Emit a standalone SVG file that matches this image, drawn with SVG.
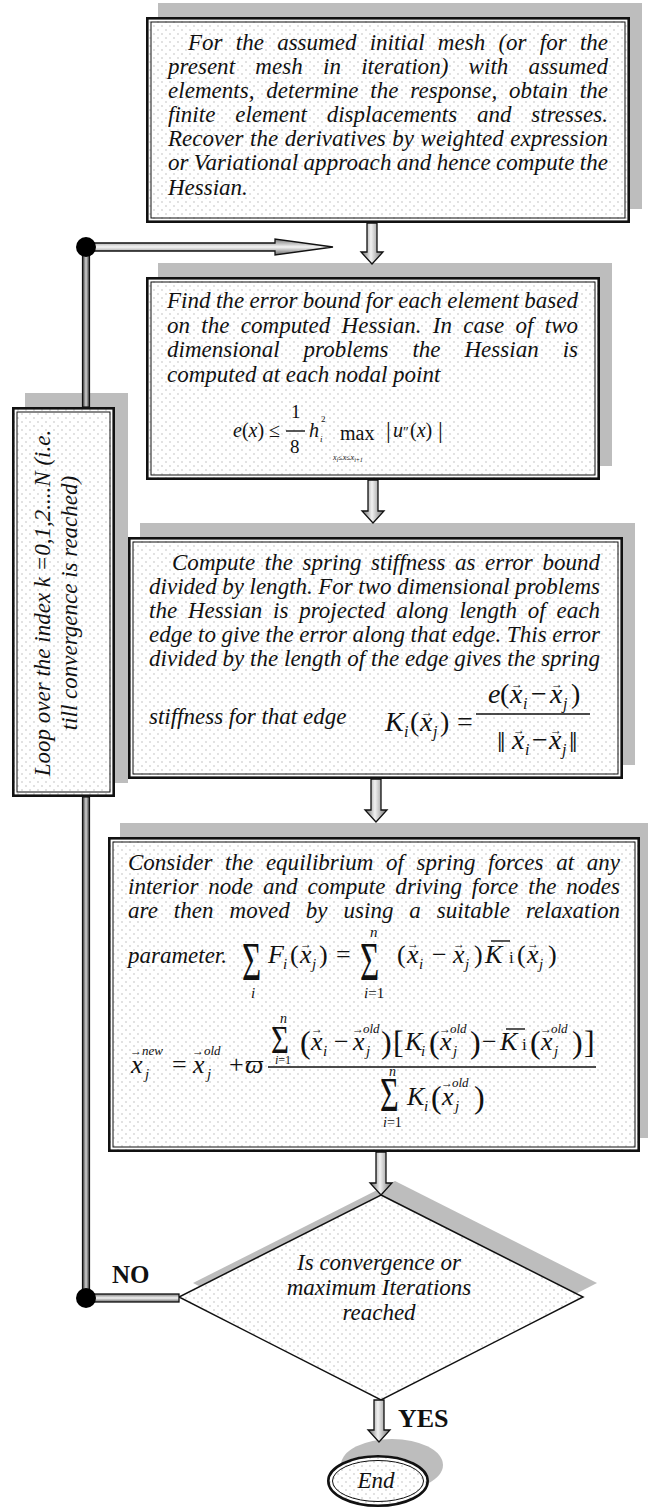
<svg xmlns="http://www.w3.org/2000/svg" width="648" height="1511" viewBox="0 0 648 1511">
<style>
.t{font-family:"Liberation Serif","DejaVu Serif",serif;font-style:italic;font-size:23px;fill:#111}
.m{font-family:"Liberation Serif","DejaVu Serif",serif;fill:#111}
.i{font-style:italic}
.acc{font-family:"Liberation Serif","DejaVu Serif",serif;font-size:12px;fill:#111}
.sup{font-family:"Liberation Serif","DejaVu Serif",serif;font-style:italic;font-size:13px;fill:#111}
.b{font-family:"Liberation Serif","DejaVu Serif",serif;font-weight:bold;fill:#111}
.sh{fill:#bdbdbd}
.fo{fill:none;stroke:#111;stroke-width:2.6}
.fi{fill:none;stroke:#111;stroke-width:1}
.va{fill:url(#gv);stroke:#111;stroke-width:1.3}
.ha{fill:url(#gh);stroke:#111;stroke-width:1.3}
.ln{stroke:#111;stroke-width:1.4}
</style>
<defs>
<pattern id="dots" width="8" height="8" patternUnits="userSpaceOnUse">
<rect width="8" height="8" fill="#fff"/>
<circle cx="2" cy="2" r="0.7" fill="#b0b0b0"/>
<circle cx="6" cy="6" r="0.7" fill="#b0b0b0"/>
</pattern>
<linearGradient id="gv" x1="0" y1="0" x2="1" y2="0">
<stop offset="0" stop-color="#666"/>
<stop offset="0.45" stop-color="#f2f2f2"/>
<stop offset="1" stop-color="#707070"/>
</linearGradient>
<linearGradient id="gh" x1="0" y1="0" x2="0" y2="1">
<stop offset="0" stop-color="#777"/>
<stop offset="0.5" stop-color="#f4f4f4"/>
<stop offset="1" stop-color="#666"/>
</linearGradient>
<linearGradient id="gl" x1="0" y1="0" x2="1" y2="0">
<stop offset="0" stop-color="#333"/>
<stop offset="0.5" stop-color="#d0d0d0"/>
<stop offset="1" stop-color="#333"/>
</linearGradient>
</defs>

<g id="box1">
<rect class="sh" x="158" y="3" width="484" height="206"/>
<rect x="146" y="17" width="484" height="206" fill="url(#dots)"/>
<rect class="fo" x="147.3" y="18.3" width="481.4" height="203.4"/>
<rect class="fi" x="151" y="22" width="474" height="196"/>
<text class="t" x="188" y="50" word-spacing="7.5" textLength="420" lengthAdjust="spacing">For the assumed initial mesh (or for the</text>
<text class="t" x="168" y="74" word-spacing="14.5" textLength="440" lengthAdjust="spacing">present mesh in iteration) with assumed</text>
<text class="t" x="168" y="98" word-spacing="6.1" textLength="440" lengthAdjust="spacing">elements, determine the response, obtain the</text>
<text class="t" x="168" y="122" word-spacing="14" textLength="440" lengthAdjust="spacing">finite element displacements and stresses.</text>
<text class="t" x="168" y="146" word-spacing="0.7" textLength="440" lengthAdjust="spacing">Recover the derivatives by weighted expression</text>
<text class="t" x="168" y="170" word-spacing="-0.6" textLength="440" lengthAdjust="spacing">or Variational approach and hence compute the</text>
<text class="t" x="168" y="195">Hessian.</text>
</g>

<g id="box2">
<rect class="sh" x="158" y="263" width="454" height="203"/>
<rect x="146" y="277" width="454" height="203" fill="url(#dots)"/>
<rect class="fo" x="147.3" y="278.3" width="451.4" height="200.4"/>
<rect class="fi" x="151" y="282" width="444" height="193"/>
<text class="t" x="167" y="308" word-spacing="-0.3" textLength="411" lengthAdjust="spacing">Find the error bound for each element based</text>
<text class="t" x="167" y="333" word-spacing="5.6" textLength="411" lengthAdjust="spacing">on the computed Hessian. In case of two</text>
<text class="t" x="167" y="357" word-spacing="18.1" textLength="411" lengthAdjust="spacing">dimensional problems the Hessian is</text>
<text class="t" x="167" y="382">computed at each nodal point</text>
<text class="m" font-size="20"><tspan x="233" y="437" class="i">e</tspan><tspan>(</tspan><tspan class="i">x</tspan><tspan>) ≤</tspan></text>
<text class="m" font-size="19" x="291" y="418">1</text>
<line class="ln" x1="286" y1="431" x2="305" y2="431" stroke-width="1.1"/>
<text class="m" font-size="19" x="290" y="453">8</text>
<text class="m" font-size="20" x="309" y="437" font-style="italic">h</text>
<text class="m" font-size="9" x="320" y="442" font-style="italic">i</text>
<text class="m" font-size="9" x="321" y="422">2</text>
<text class="m" font-size="20" x="340" y="440">max</text>
<text class="m" font-size="8" x="333" y="460" fill="#555"><tspan class="i">x</tspan><tspan class="i" font-size="6" dy="2">i</tspan><tspan dy="-2">≤</tspan><tspan class="i">x</tspan><tspan>≤</tspan><tspan class="i">x</tspan><tspan class="i" font-size="6" dy="2">i+1</tspan></text>
<text class="m" font-size="20"><tspan x="386" y="438" font-size="24">|</tspan><tspan x="393" y="437" class="i">u</tspan><tspan x="403" y="437" font-size="14">″</tspan><tspan x="410" y="437">(</tspan><tspan class="i">x</tspan><tspan>)</tspan><tspan x="438" y="438" font-size="24">|</tspan></text>
</g>

<g id="box3">
<rect class="sh" x="140" y="523" width="495" height="242"/>
<rect x="128" y="537" width="495" height="242" fill="url(#dots)"/>
<rect class="fo" x="129.3" y="538.3" width="492.4" height="239.4"/>
<rect class="fi" x="133" y="542" width="485" height="232"/>
<text class="t" x="172" y="570" word-spacing="3.8" textLength="428" lengthAdjust="spacing">Compute the spring stiffness as error bound</text>
<text class="t" x="149" y="594" word-spacing="-0.3" textLength="451" lengthAdjust="spacing">divided by length. For two dimensional problems</text>
<text class="t" x="149" y="618" word-spacing="5" textLength="451" lengthAdjust="spacing">the Hessian is projected along length of each</text>
<text class="t" x="149" y="642" word-spacing="-0.3" textLength="451" lengthAdjust="spacing">edge to give the error along that edge. This error</text>
<text class="t" x="149" y="666" word-spacing="0" textLength="451" lengthAdjust="spacing">divided by the length of the edge gives the spring</text>
<text class="t" x="149" y="724">stiffness for that edge</text>
<text class="m" font-size="28"><tspan x="385" y="731" class="i">K</tspan><tspan x="404" y="737" font-size="16" class="i">i</tspan><tspan x="410" y="731">(</tspan><tspan x="420" y="731" class="i">x</tspan><tspan x="433" y="737" font-size="16" class="i">j</tspan><tspan x="440" y="731">)</tspan><tspan x="457" y="731">=</tspan><tspan x="488" y="703" class="i">e</tspan><tspan x="500" y="703">(</tspan><tspan x="510" y="703" class="i">x</tspan><tspan x="523" y="709" font-size="16" class="i">i</tspan><tspan x="531" y="703">−</tspan><tspan x="550" y="703" class="i">x</tspan><tspan x="563" y="709" font-size="16" class="i">j</tspan><tspan x="571" y="703">)</tspan><tspan x="497" y="752" font-size="30">‖</tspan><tspan x="512" y="749" class="i">x</tspan><tspan x="525" y="755" font-size="16" class="i">i</tspan><tspan x="532" y="749">−</tspan><tspan x="549" y="749" class="i">x</tspan><tspan x="562" y="755" font-size="16" class="i">j</tspan><tspan x="569" y="752" font-size="30">‖</tspan></text>
<text class="acc"><tspan x="421" y="716">→</tspan><tspan x="511" y="688">→</tspan><tspan x="551" y="688">→</tspan><tspan x="513" y="734">→</tspan><tspan x="550" y="734">→</tspan></text>
<line class="ln" x1="476" y1="714" x2="590" y2="714"/>
</g>

<g id="box4">
<rect class="sh" x="120" y="823" width="532" height="315"/>
<rect x="108" y="837" width="532" height="315" fill="url(#dots)"/>
<rect class="fo" x="109.3" y="838.3" width="529.4" height="312.4"/>
<rect class="fi" x="113" y="842" width="522" height="305"/>
<text class="t" x="128" y="870" word-spacing="6.9" textLength="492" lengthAdjust="spacing">Consider the equilibrium of spring forces at any</text>
<text class="t" x="128" y="894" word-spacing="4.1" textLength="492" lengthAdjust="spacing">interior node and compute driving force the nodes</text>
<text class="t" x="128" y="918" word-spacing="10.1" textLength="492" lengthAdjust="spacing">are then moved by using a suitable relaxation</text>
<text class="t" x="128" y="963">parameter.</text>
<text class="m" font-size="30" transform="translate(242,980) scale(1.1,1.8)">Σ</text>
<text class="m" font-size="30" transform="translate(360,980) scale(1.1,1.8)">Σ</text>
<text class="m" font-size="26"><tspan x="251" y="998" font-size="15" class="i">i</tspan><tspan x="268" y="963" class="i">F</tspan><tspan x="283" y="969" font-size="15" class="i">i</tspan><tspan x="290" y="963">(</tspan><tspan x="300" y="963" class="i">x</tspan><tspan x="312" y="969" font-size="15" class="i">j</tspan><tspan x="319" y="963">)</tspan><tspan x="336" y="963">=</tspan><tspan x="370" y="937" font-size="15" class="i">n</tspan><tspan x="364" y="998" font-size="15" class="i">i</tspan><tspan font-size="15">=1</tspan><tspan x="397" y="963">(</tspan><tspan x="407" y="963" class="i">x</tspan><tspan x="419" y="969" font-size="15" class="i">i</tspan><tspan x="432" y="963">−</tspan><tspan x="453" y="963" class="i">x</tspan><tspan x="465" y="969" font-size="15" class="i">j</tspan><tspan x="474" y="963">)</tspan><tspan x="485" y="963" class="i">K</tspan><tspan x="509" y="963" font-size="17">i</tspan><tspan x="517" y="963">(</tspan><tspan x="527" y="963" class="i">x</tspan><tspan x="539" y="969" font-size="15" class="i">j</tspan><tspan x="548" y="963">)</tspan></text>
<line class="ln" x1="491" y1="941" x2="510" y2="941" stroke-width="1.6"/>
<text class="acc"><tspan x="300" y="948">→</tspan><tspan x="407" y="948">→</tspan><tspan x="453" y="948">→</tspan><tspan x="527" y="948">→</tspan></text>

<text class="m" font-size="26"><tspan x="131" y="1073" class="i">x</tspan><tspan x="145" y="1079" font-size="15" class="i">j</tspan><tspan x="172" y="1073">=</tspan><tspan x="193" y="1073" class="i">x</tspan><tspan x="207" y="1079" font-size="15" class="i">j</tspan><tspan x="229" y="1073">+</tspan><tspan x="245" y="1073" class="i">ϖ</tspan></text>
<text class="acc"><tspan x="130" y="1055">→</tspan><tspan x="192" y="1055">→</tspan></text>
<text class="sup"><tspan x="142" y="1055">new</tspan><tspan x="204" y="1055">old</tspan></text>
<line class="ln" x1="268" y1="1067" x2="596" y2="1067"/>
<text class="m" font-size="28" transform="translate(271,1053) scale(1.1,1.4)">Σ</text>
<text class="m" font-size="26"><tspan x="280" y="1023" font-size="14" class="i">n</tspan><tspan x="275" y="1064" font-size="12" class="i">i</tspan><tspan font-size="12">=1</tspan><tspan x="300" y="1053" font-size="32">(</tspan><tspan x="311" y="1050" class="i">x</tspan><tspan x="323" y="1056" font-size="15" class="i">i</tspan><tspan x="334" y="1050">−</tspan><tspan x="353" y="1050" class="i">x</tspan><tspan x="366" y="1056" font-size="15" class="i">j</tspan><tspan x="381" y="1053" font-size="32">)</tspan><tspan x="393" y="1053" font-size="32">[</tspan><tspan x="405" y="1050" class="i">K</tspan><tspan x="421" y="1056" font-size="15" class="i">i</tspan><tspan x="429" y="1053" font-size="32">(</tspan><tspan x="440" y="1050" class="i">x</tspan><tspan x="453" y="1056" font-size="15" class="i">j</tspan><tspan x="470" y="1053" font-size="32">)</tspan><tspan x="482" y="1050">−</tspan><tspan x="500" y="1050" class="i">K</tspan><tspan x="522" y="1050" font-size="17">i</tspan><tspan x="530" y="1053" font-size="32">(</tspan><tspan x="541" y="1050" class="i">x</tspan><tspan x="554" y="1056" font-size="15" class="i">j</tspan><tspan x="572" y="1053" font-size="32">)</tspan><tspan x="584" y="1053" font-size="32">]</tspan></text>
<line class="ln" x1="506" y1="1029" x2="525" y2="1029" stroke-width="1.6"/>
<text class="acc"><tspan x="311" y="1033">→</tspan><tspan x="352" y="1033">→</tspan><tspan x="439" y="1033">→</tspan><tspan x="540" y="1033">→</tspan></text>
<text class="sup"><tspan x="363" y="1033">old</tspan><tspan x="450" y="1033">old</tspan><tspan x="551" y="1033">old</tspan></text>
<text class="m" font-size="28" transform="translate(380,1111) scale(1.15,1.7)">Σ</text>
<text class="m" font-size="26"><tspan x="389" y="1076" font-size="14" class="i">n</tspan><tspan x="383" y="1127" font-size="14" class="i">i</tspan><tspan font-size="14">=1</tspan><tspan x="407" y="1105" class="i">K</tspan><tspan x="424" y="1111" font-size="15" class="i">i</tspan><tspan x="431" y="1108" font-size="32">(</tspan><tspan x="442" y="1105" class="i">x</tspan><tspan x="455" y="1111" font-size="15" class="i">j</tspan><tspan x="474" y="1108" font-size="32">)</tspan></text>
<text class="acc" x="441" y="1087">→</text>
<text class="sup" x="452" y="1087">old</text>
</g>

<g id="loop">
<rect class="sh" x="25" y="393" width="103" height="390"/>
<rect x="12" y="407" width="103" height="390" fill="url(#dots)"/>
<rect class="fo" x="13.3" y="408.3" width="100.4" height="387.4"/>
<rect class="fi" x="17" y="412" width="93" height="380"/>
<text class="t" text-anchor="middle" transform="translate(50,603) rotate(-90)">Loop over the index k =0,1,2....N (i.e.</text>
<text class="t" text-anchor="middle" transform="translate(77,603) rotate(-90)">till convergence is reached)</text>
</g>

<g id="decision">
<polygon class="sh" points="395,1181 597,1283 395,1386 193,1283"/>
<polygon points="381,1195 583,1297 381,1400 179,1297" fill="url(#dots)" stroke="#111" stroke-width="1.5"/>
<text class="t" text-anchor="middle" x="379" y="1270">Is convergence or</text>
<text class="t" text-anchor="middle" x="379" y="1295">maximum Iterations</text>
<text class="t" text-anchor="middle" x="379" y="1320">reached</text>
</g>

<g id="end">
<ellipse class="sh" cx="392" cy="1465" rx="51" ry="26"/>
<ellipse cx="378" cy="1481" rx="51" ry="26" fill="url(#dots)"/>
<ellipse class="fo" cx="378" cy="1481" rx="49.7" ry="24.7"/>
<ellipse class="fi" cx="378" cy="1481" rx="45.5" ry="20.5"/>
<text class="t" text-anchor="middle" x="376" y="1488">End</text>
</g>

<g id="connectors">
<path class="va" d="M367,223 V252 H361 L372,264 L383,252 H377 V223 Z"/>
<path class="va" d="M368,480 V511 H362 L373,523 L384,511 H378 V480 Z"/>
<path class="va" d="M371,779 V810 H365 L376,822 L387,810 H381 V779 Z"/>
<path class="va" d="M376,1152 V1183 H370 L381,1195 L392,1183 H386 V1152 Z"/>
<path class="va" d="M374,1400 V1430 H368 L379,1442 L390,1430 H384 V1400 Z"/>
<rect x="82.5" y="247" width="7" height="160" fill="url(#gl)" stroke="#111" stroke-width="1.2"/>
<rect x="82.5" y="797" width="7" height="501" fill="url(#gl)" stroke="#111" stroke-width="1.2"/>
<path class="ha" d="M86,243 H275 V239 L333,247 L275,255 V251 H86 Z"/>
<rect class="ha" x="86" y="1294" width="93" height="8"/>
<circle cx="86" cy="247" r="10" fill="#000"/>
<circle cx="86" cy="1298" r="10" fill="#000"/>
<text class="b" font-size="25" x="112" y="1283">NO</text>
<text class="b" font-size="26" x="398" y="1427">YES</text>
</g>
</svg>
